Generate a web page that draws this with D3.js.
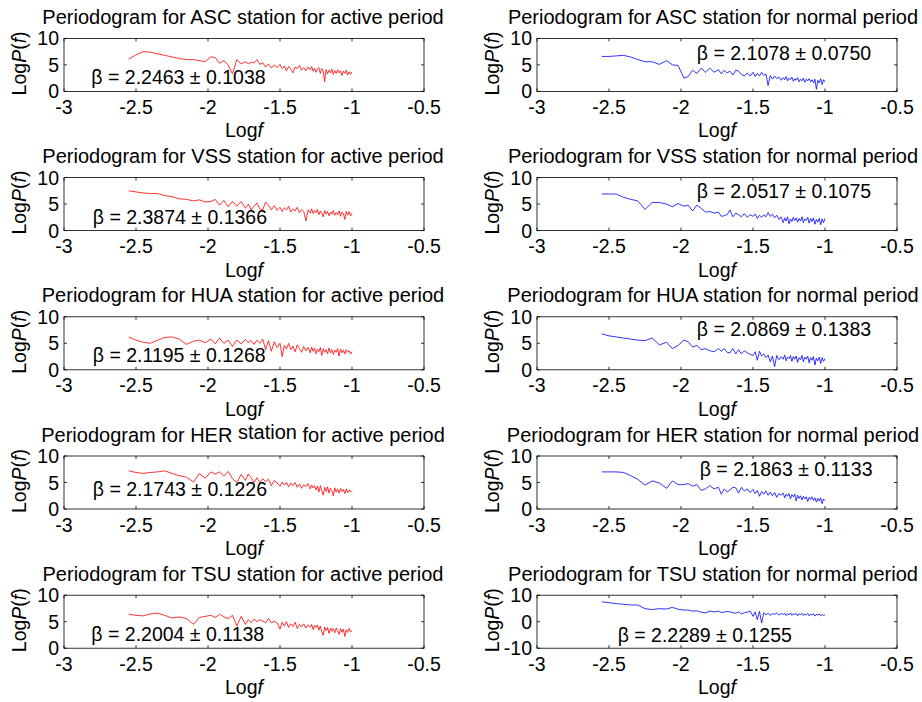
<!DOCTYPE html>
<html>
<head>
<meta charset="utf-8">
<script src="https://cdn.jsdelivr.net/npm/d3@7/dist/d3.min.js"></script>
<style>
  body { margin: 0; background: #fff; }
  text { font-family: "Liberation Sans", Arial, sans-serif; fill: #000; }
</style>
</head>
<body>
<script>
// log10 of frequency (shared x grid)
var logF = [-2.55, -2.50, -2.45, -2.40, -2.35, -2.30, -2.25, -2.20, -2.15, -2.10,
  -2.06, -2.02, -1.98, -1.95, -1.92, -1.89, -1.86, -1.83, -1.80, -1.77,
  -1.74, -1.72, -1.70, -1.68, -1.66, -1.64, -1.62, -1.60, -1.58, -1.56,
  -1.54, -1.52, -1.50, -1.485, -1.47, -1.455, -1.44, -1.425, -1.41, -1.395,
  -1.38, -1.365, -1.35, -1.335, -1.32, -1.305, -1.29, -1.28, -1.27, -1.26,
  -1.25, -1.24, -1.23, -1.22, -1.21, -1.20, -1.19, -1.18, -1.17, -1.16,
  -1.15, -1.14, -1.13, -1.12, -1.11, -1.10, -1.09, -1.08, -1.07, -1.06,
  -1.05, -1.04, -1.03, -1.02, -1.01, -1.00];

// log P(f) per station / period
var ascActive = [6.1, 6.9, 7.5, 7.4, 7.1, 6.8, 6.5, 6.2, 6.0, 6.0,
  5.8, 5.6, 6.5, 6.4, 5.3, 5.8, 5.0, 3.3, 6.0, 5.2,
  5.6, 5.2, 5.5, 5.4, 6.0, 5.1, 5.4, 4.6, 5.2, 4.4,
  5.0, 4.5, 5.1, 4.3, 4.8, 3.9, 4.7, 4.2, 3.5, 4.6,
  4.3, 4.9, 4.0, 4.5, 3.9, 4.6, 4.1, 4.7, 3.8, 4.4,
  3.6, 4.2, 4.5, 3.4, 4.3, 3.9, 1.8, 4.1, 3.3, 4.0,
  3.5, 4.2, 3.2, 3.9, 3.4, 4.1, 3.5, 3.9, 3.0, 3.8,
  3.4, 4.0, 3.1, 3.7, 3.2, 3.7];
var ascNormal = [6.6, 6.6, 6.7, 6.8, 6.5, 6.0, 5.6, 5.6, 5.1, 5.8,
  5.0, 4.9, 2.5, 2.8, 4.0, 3.4, 4.4, 3.6, 4.4, 3.6,
  4.1, 3.3, 4.0, 3.5, 3.8, 3.1, 4.0, 3.8, 3.2, 2.9,
  3.5, 2.9, 3.6, 2.8, 3.4, 2.9, 3.6, 3.0, 3.3, 1.1,
  3.0, 2.3, 2.9, 2.4, 2.7, 2.1, 2.6, 2.2, 2.8, 2.0,
  2.5, 2.2, 2.7, 1.9, 2.4, 2.1, 2.6, 1.8, 2.3, 2.0,
  2.5, 1.7, 2.3, 2.0, 2.4, 1.8, 2.2, 1.6, 2.3, 0.4,
  2.1, 1.6, 2.4, 1.3, 2.2, 1.8];
var vssActive = [7.5, 7.3, 7.1, 7.0, 7.0, 6.6, 6.4, 6.0, 5.9, 5.6,
  5.8, 5.4, 5.5, 5.9, 4.8, 5.7, 4.5, 5.5, 4.6, 5.5,
  4.2, 5.0, 3.9, 4.6, 5.2, 4.1, 3.9, 5.4, 4.8, 3.9,
  4.7, 3.8, 4.4, 3.6, 4.3, 3.9, 4.6, 3.5, 4.1, 3.7,
  4.4, 3.4, 4.0, 3.6, 1.8, 3.9, 3.3, 4.1, 3.2, 3.8,
  3.4, 4.0, 3.0, 3.7, 3.3, 2.6, 3.8, 3.1, 3.6, 2.8,
  3.5, 3.1, 3.8, 2.9, 3.4, 3.0, 3.7, 2.7, 3.5, 3.2,
  2.1, 3.6, 2.9, 3.6, 2.8, 3.3];
var vssNormal = [6.9, 6.9, 6.9, 6.3, 5.9, 5.6, 4.0, 5.3, 5.3, 5.0,
  4.5, 5.1, 4.6, 4.8, 3.7, 4.8, 4.2, 3.5, 3.6, 3.3,
  3.5, 2.7, 2.8, 3.0, 3.9, 2.6, 3.3, 3.0, 2.6, 3.2,
  2.5, 3.0, 2.7, 3.1, 2.3, 2.9, 2.5, 3.0, 2.6, 3.4,
  2.7, 3.1, 2.4, 2.9, 2.1, 2.6, 1.5, 2.4, 1.8, 2.6,
  1.3, 2.2, 1.7, 2.5, 1.9, 2.4, 1.6, 2.3, 1.8, 2.6,
  1.5, 2.2, 1.9, 2.5, 1.4, 2.3, 1.7, 2.4, 1.2, 2.1,
  1.6, 2.3, 1.1, 2.2, 1.5, 2.3];
var huaActive = [6.2, 5.6, 5.2, 5.0, 5.6, 6.1, 6.2, 5.8, 4.8, 5.4,
  5.6, 5.1, 5.8, 4.9, 6.0, 5.0, 5.6, 4.4, 5.6, 4.9,
  5.7, 5.1, 5.5, 4.8, 5.6, 5.0, 5.8, 3.8, 5.5, 3.5,
  5.3, 4.2, 5.0, 2.5, 4.6, 3.9, 5.0, 3.8, 4.5, 3.4,
  4.7, 4.0, 3.3, 4.4, 3.6, 4.2, 3.2, 4.3, 3.5, 4.1,
  3.0, 3.9, 3.4, 4.2, 2.7, 4.0, 3.3, 3.8, 3.0, 4.1,
  3.2, 3.8, 2.9, 3.7, 3.3, 4.0, 2.6, 3.9, 3.2, 3.7,
  3.0, 3.8, 3.3, 3.6, 3.0, 3.4];
var huaNormal = [6.8, 6.4, 6.2, 6.0, 5.8, 5.6, 5.5, 6.0, 4.7, 5.2,
  4.0, 4.6, 5.6, 5.3, 4.3, 4.6, 3.8, 4.0, 3.6, 3.4,
  4.0, 3.5, 4.0, 3.3, 3.2, 4.0, 3.0, 3.8, 3.0, 3.6,
  3.2, 2.9, 2.7, 3.4, 1.8, 3.5, 2.6, 3.0, 2.3, 2.8,
  1.5, 2.6, 0.6, 2.7, 1.9, 2.5, 2.0, 2.8, 1.7, 2.4,
  2.1, 2.7, 1.6, 2.5, 2.0, 2.6, 1.4, 2.3, 1.9, 2.7,
  1.5, 2.4, 2.0, 2.6, 1.3, 2.3, 1.8, 2.5, 0.9, 2.2,
  1.7, 2.4, 1.2, 2.3, 1.6, 2.1];
var herActive = [7.2, 6.9, 6.7, 6.9, 7.0, 7.2, 6.7, 6.3, 6.0, 5.1,
  6.7, 5.8, 7.0, 6.6, 7.0, 6.2, 7.1, 5.7, 5.0, 6.5,
  5.4, 6.6, 5.9, 5.0, 5.9, 5.0, 5.7, 5.2, 5.6, 4.4,
  5.4, 4.9, 4.3, 5.1, 4.5, 5.0, 4.2, 4.9, 4.4, 5.0,
  4.1, 4.7, 3.9, 4.6, 4.2, 4.8, 3.8, 4.5, 4.0, 4.4,
  3.6, 4.3, 3.2, 4.4, 3.5, 2.6, 4.1, 3.3, 4.2, 3.0,
  3.9, 3.5, 2.5, 4.0, 3.2, 3.8, 3.0, 3.9, 3.3, 3.7,
  2.9, 3.8, 3.1, 3.6, 3.2, 3.5];
var herNormal = [7.0, 7.0, 7.0, 6.9, 6.3, 5.6, 4.5, 5.3, 4.9, 3.9,
  5.3, 4.6, 4.6, 4.8, 4.3, 4.6, 3.5, 3.8, 4.4, 3.8,
  4.1, 2.8, 3.8, 3.2, 3.6, 4.1, 4.0, 3.0, 4.1, 3.4,
  3.8, 3.1, 3.7, 2.9, 3.5, 2.4, 3.3, 2.8, 3.4, 2.6,
  3.2, 2.5, 3.1, 2.2, 2.9, 2.6, 3.0, 2.1, 2.8, 2.4,
  2.9, 1.9, 2.7, 2.3, 2.8, 1.5, 2.6, 2.0, 2.5, 1.7,
  2.4, 1.9, 2.3, 1.4, 2.2, 1.8, 2.3, 1.6, 2.1, 1.3,
  2.0, 1.5, 2.1, 1.0, 1.9, 1.6];
var tsuActive = [6.4, 6.2, 6.1, 6.5, 6.6, 6.2, 5.7, 5.9, 5.6, 4.5,
  5.8, 6.0, 6.2, 5.8, 6.4, 5.9, 5.6, 6.2, 4.2, 6.0,
  4.5, 5.4, 4.8, 5.5, 5.0, 5.4, 5.1, 4.8, 5.6, 4.8,
  5.1, 4.8, 3.6, 4.9, 4.2, 5.0, 3.9, 4.6, 4.1, 4.9,
  3.7, 4.5, 4.0, 4.6, 3.8, 4.4, 4.0, 4.5, 3.5, 4.3,
  3.9, 4.4, 3.4, 4.2, 3.1, 2.4, 4.0, 3.3, 3.9, 2.8,
  3.8, 3.2, 3.7, 2.9, 3.8, 3.3, 2.6, 3.7, 3.0, 3.6,
  2.2, 3.5, 3.0, 3.7, 3.1, 3.3];
var tsuNormal = [7.5, 7.2, 6.8, 6.6, 6.3, 6.3, 4.9, 4.6, 4.9, 4.8,
  5.4, 4.7, 4.4, 4.4, 4.0, 4.1, 3.6, 3.3, 4.0, 3.7,
  4.0, 3.5, 3.6, 3.9, 3.7, 3.4, 3.2, 3.7, 2.9, 3.4,
  3.6, 4.0, 2.0, 3.7, 0.8, 3.9, -0.5, 3.4, 2.6, 3.2,
  2.4, 3.0, 2.8, 3.3, 2.5, 3.1, 2.7, 3.2, 2.3, 3.0,
  2.6, 3.3, 2.4, 3.0, 2.7, 3.1, 2.2, 3.0, 2.6, 3.2,
  2.3, 2.9, 2.5, 3.1, 2.2, 2.8, 2.6, 3.0, 2.1, 2.8,
  2.5, 2.9, 2.2, 2.7, 2.4, 2.6];

var stations = ['ASC', 'VSS', 'HUA', 'HER', 'TSU'];
var periods = ['active', 'normal'];
var seriesValues = [
  [ascActive, ascNormal],
  [vssActive, vssNormal],
  [huaActive, huaNormal],
  [herActive, herNormal],
  [tsuActive, tsuNormal]
];
var betaValues = [
  [['2.2463', '0.1038'], ['2.1078', '0.0750']],
  [['2.3874', '0.1366'], ['2.0517', '0.1075']],
  [['2.1195', '0.1268'], ['2.0869', '0.1383']],
  [['2.1743', '0.1226'], ['2.1863', '0.1133']],
  [['2.2004', '0.1138'], ['2.2289', '0.1255']]
];
var xTicks = [-3, -2.5, -2, -1.5, -1, -0.5];
var yTicks = [0, 5, 10];
var yTicksWide = [-10, 0, 10];

// layout
var W = 922, H = 702;
var colLeft = [64, 537], boxW = 360, boxH = 53;
var rowTop0 = 38.4, rowPitch = 139.2;
var colors = ['#ff0000', '#0000ff'];
var fs = '19.5px', titleFs = '20px';
// where the beta text sits, in data units
var betaAt = [
  [[-2.81, 2.7], [-1.89, 7.2]],
  [[-2.80, 2.6], [-1.89, 7.5]],
  [[-2.80, 2.8], [-1.89, 7.7]],
  [[-2.80, 3.8], [-1.87, 7.5]],
  [[-2.81, 2.7], [-2.44, -5.0]]
];

var svg = d3.select('body').append('svg')
  .attr('width', W)
  .attr('height', H);

stations.forEach(function(st, r) {
  periods.forEach(function(per, c) {
    var left = colLeft[c], top = rowTop0 + r * rowPitch;
    var wide = (r === 4 && c === 1);
    var x = d3.scaleLinear().domain([-3, -0.5]).range([left, left + boxW]);
    var y = d3.scaleLinear().domain(wide ? [-10, 10] : [0, 10]).range([top + boxH, top]);
    var yt = wide ? yTicksWide : yTicks;
    var g = svg.append('g');

    // line
    var vals = seriesValues[r][c];
    var line = d3.line()
      .x(function(d, i) { return x(logF[i]); })
      .y(function(d) { return y(d); });
    g.append('path')
      .datum(vals)
      .attr('d', line)
      .attr('fill', 'none')
      .attr('stroke', colors[c])
      .attr('stroke-width', 0.8);

    // box + inward ticks on all four sides
    g.append('rect')
      .attr('x', left).attr('y', top)
      .attr('width', boxW).attr('height', boxH)
      .attr('fill', 'none').attr('stroke', '#000').attr('stroke-width', 0.8);
    xTicks.forEach(function(t) {
      g.append('line').attr('x1', x(t)).attr('x2', x(t))
        .attr('y1', top + boxH).attr('y2', top + boxH - 3)
        .attr('stroke', '#000').attr('stroke-width', 0.8);
      g.append('line').attr('x1', x(t)).attr('x2', x(t))
        .attr('y1', top).attr('y2', top + 3)
        .attr('stroke', '#000').attr('stroke-width', 0.8);
    });
    yt.forEach(function(t) {
      g.append('line').attr('x1', left).attr('x2', left + 3)
        .attr('y1', y(t)).attr('y2', y(t))
        .attr('stroke', '#000').attr('stroke-width', 0.8);
      g.append('line').attr('x1', left + boxW).attr('x2', left + boxW - 3)
        .attr('y1', y(t)).attr('y2', y(t))
        .attr('stroke', '#000').attr('stroke-width', 0.8);
    });

    // tick labels
    g.selectAll('.xt').data(xTicks).enter().append('text')
      .attr('x', function(d) { return x(d); })
      .attr('y', top + boxH + 22.5)
      .attr('text-anchor', 'middle')
      .style('font-size', fs)
      .text(function(d) { return String(d); });
    g.selectAll('.yt').data(yt).enter().append('text')
      .attr('x', left - 5)
      .attr('y', function(d) { return y(d); })
      .attr('dy', '0.36em')
      .attr('text-anchor', 'end')
      .style('font-size', fs)
      .text(function(d) { return String(d); });

    // axis labels
    var xl = g.append('text')
      .attr('x', left + boxW / 2)
      .attr('y', top + boxH + 46)
      .attr('text-anchor', 'middle')
      .style('font-size', fs);
    xl.append('tspan').text('Log');
    xl.append('tspan').style('font-style', 'italic').text('f');

    var yl = g.append('text')
      .attr('transform', 'translate(' + (left - 38) + ',' + (top + boxH / 2 - 1.5) + ') rotate(-90)')
      .attr('text-anchor', 'middle')
      .style('font-size', fs);
    yl.append('tspan').text('Log');
    yl.append('tspan').style('font-style', 'italic').text('P');
    yl.append('tspan').text('(');
    yl.append('tspan').style('font-style', 'italic').text('f');
    yl.append('tspan').text(')');

    // title
    var tt = g.append('text')
      .attr('x', left + boxW / 2 - (c ? 4 : 1))
      .attr('y', top - 14.5)
      .attr('text-anchor', 'middle')
      .style('font-size', titleFs);
    if (r === 3 && c === 0) {
      // HER title has "station" nudged up in the original
      tt.append('tspan').text('Periodogram for HER ');
      tt.append('tspan').attr('dy', -3).text('station');
      tt.append('tspan').attr('dy', 3).text('  for active period');
    } else {
      tt.text('Periodogram for ' + st + ' station for ' + per + ' period');
    }

    // beta annotation
    var b = betaValues[r][c], at = betaAt[r][c];
    g.append('text')
      .attr('x', x(at[0]))
      .attr('y', y(at[1]))
      .attr('dy', '0.36em')
      .style('font-size', fs)
      .text('\u03b2 = ' + b[0] + ' \u00b1 ' + b[1]);
  });
});
</script>
</body>
</html>
